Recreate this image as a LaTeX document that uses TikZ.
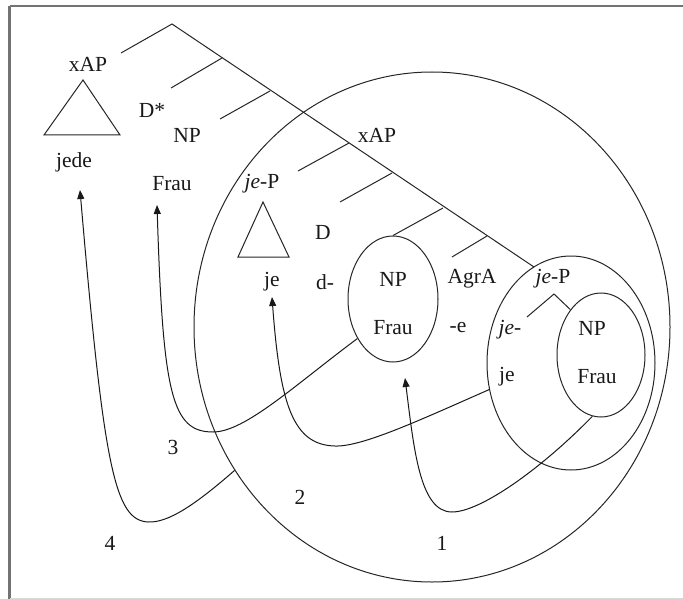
\documentclass[tikz,border=0pt]{standalone}
\usepackage{fontspec}
\setmainfont{Liberation Serif}
\usetikzlibrary{shapes.geometric,arrows.meta}
\begin{document}
\begin{tikzpicture}[x=1pt,y=-1pt,
  ln/.style={line width=1pt,draw=black!85},
  lbl/.style={font=\fontsize{21.5}{25}\selectfont,inner sep=0pt,text=black!90},
  ring/.style={ellipse,draw=black!85,line width=1pt,inner sep=0pt},
  tri/.style={line width=1pt,draw=black!85},
  mv/.style={line width=1pt,draw=black!90,-{Triangle[length=9pt,width=7pt]}},
  frame/.style={line width=2.2pt,draw=black!55}]
\useasboundingbox (0,0) rectangle (683,599);
\fill[white] (0,0) rectangle (683,599);
% frame
\draw[frame] (9.5,6) -- (683,6);
\draw[frame] (9.5,6) -- (9.5,599);
\draw[line width=0.8pt,draw=black!15] (9.5,598) -- (683,598);

% big circles
\node[ring,minimum width=476pt,minimum height=510pt] (big) at (432,327) {};
\node[ring,minimum width=90pt,minimum height=126pt] (np1) at (393,299) {};
\node[ring,minimum width=168pt,minimum height=214pt] (jep) at (571,363) {};
\node[ring,minimum width=88pt,minimum height=124pt] (inp) at (601,355) {};

% tree
\coordinate (apex) at (172,24);
\coordinate (lb) at (121,53);
\coordinate (mend) at (534,267);
\coordinate (b1) at (222,58);  \coordinate (e1) at (171,88);
\coordinate (b2) at (270,91);  \coordinate (e2) at (220,119);
\coordinate (b3) at (349,143); \coordinate (e3) at (298,171);
\coordinate (b4) at (392,173); \coordinate (e4) at (340,202);
\coordinate (b5) at (443,208);
\coordinate (b6) at (487,236); \coordinate (e6) at (452,257);
\draw[ln] (lb) -- (apex) -- (mend);
\draw[ln] (b1) -- (e1);
\draw[ln] (b2) -- (e2);
\draw[ln] (b3) -- (e3);
\draw[ln] (b4) -- (e4);
\draw[ln] (b5) -- (np1.north);
\draw[ln] (b6) -- (e6);
% small tree
\coordinate (sapex) at (554,294);
\coordinate (sl) at (527,317);
\draw[ln] (sl) -- (sapex) -- (inp.124);

% triangles
\coordinate (t1a) at (83,80); \coordinate (t1b) at (44,135); \coordinate (t1c) at (120,135);
\draw[tri] (t1a) -- (t1b) -- (t1c) -- cycle;
\coordinate (t2a) at (263,202); \coordinate (t2b) at (238,257); \coordinate (t2c) at (289,257);
\draw[tri] (t2a) -- (t2b) -- (t2c) -- cycle;

% labels
\node[lbl] (xap1) at (88,64) {xAP};
\node[lbl] (jede) at (74,162) {jede};
\node[lbl] (dstar) at (152,110) {D*};
\node[lbl] (npA) at (187,135) {NP};
\node[lbl] (frauA) at (172,184) {Frau};
\node[lbl] (jepA) at (262,184) {\textit{je}-P};
\node[lbl] (dD) at (323,232) {D};
\node[lbl] (je1) at (272,282) {je};
\node[lbl] (dm) at (325,282) {d-};
\node[lbl] (xap2) at (377,135) {xAP};
\node[lbl] (npB) at (393,279) {NP};
\node[lbl] (frauB) at (393,328) {Frau};
\node[lbl] (agra) at (472,279) {AgrA};
\node[lbl] (em) at (458,328) {-e};
\node[lbl] (jepB) at (553,279) {\textit{je}-P};
\node[lbl] (jem) at (510,330) {\textit{je}-};
\node[lbl] (je2) at (507,377) {je};
\node[lbl] (npC) at (592,328) {NP};
\node[lbl] (frauC) at (597,377) {Frau};
\node[lbl] (n1) at (442,543) {1};
\node[lbl] (n2) at (300,497) {2};
\node[lbl] (n3) at (173,447) {3};
\node[lbl] (n4) at (110,543) {4};

% movement arrows
\coordinate (t4) at (80,190);
\coordinate (t3) at (157,205);
\coordinate (t2) at (272,297);
\coordinate (t1) at (405,378);
\draw[mv] (big.216.4) .. controls (195,505) and (168,523) .. (148,522)
   .. controls (115,520) and (104,470) .. (t4);
\draw[mv] (np1.228) .. controls (295,385) and (245,432) .. (213,432)
   .. controls (172,432) and (163,395) .. (t3);
\draw[mv] (jep.198) .. controls (420,420) and (362,447) .. (335,446)
   .. controls (293,445) and (280,405) .. (t2);
\draw[mv] (inp.262) .. controls (540,470) and (480,512) .. (452,512)
   .. controls (420,512) and (414,450) .. (t1);
\end{tikzpicture}
\end{document}
